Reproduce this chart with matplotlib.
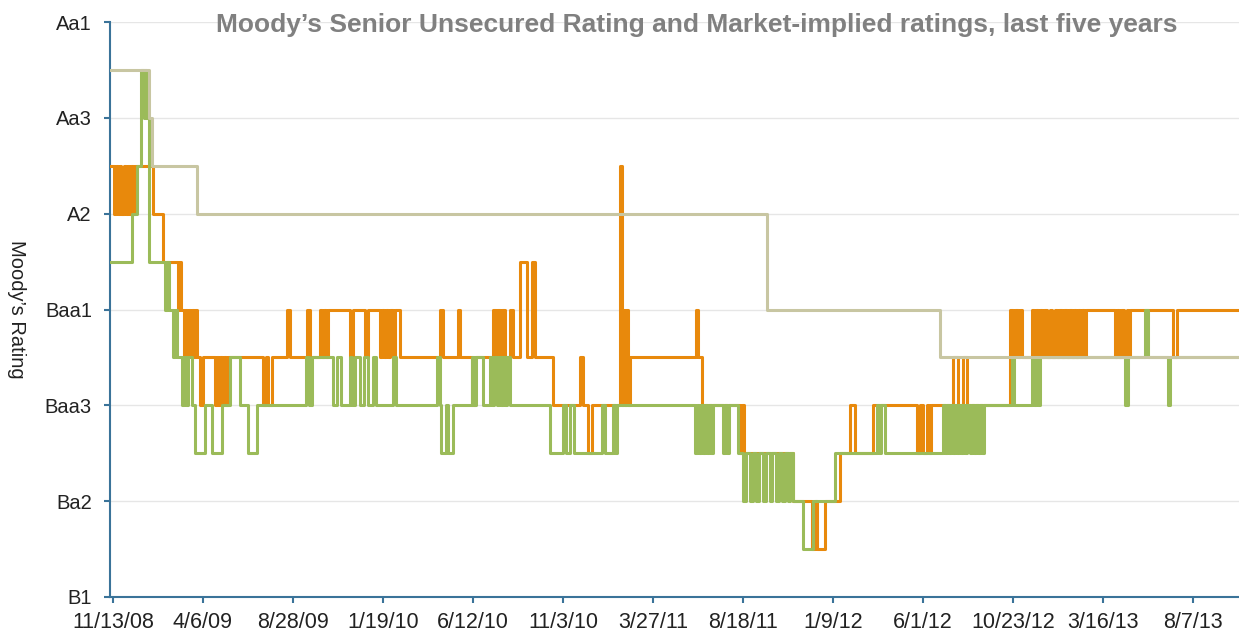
import matplotlib
matplotlib.use("Agg")
import matplotlib.pyplot as plt
import pandas as pd

### DATA ###
# ratings are counted in notches above B1 (B1=0 ... Aa1=12)
# change points are given as days since 11/13/08, value holds until the next point
start = pd.Timestamp("2008-11-13")
last_day = 1802

rating_names = ["B1", "Ba3", "Ba2", "Ba1", "Baa3", "Baa2", "Baa1",
                "A3", "A2", "A1", "Aa3", "Aa2", "Aa1"]
ytick_labels = ["B1", "Ba2", "Baa3", "Baa1", "A2", "Aa3", "Aa1"]
xtick_labels = ["11/13/08", "4/6/09", "8/28/09", "1/19/10", "6/12/10", "11/3/10",
                "3/27/11", "8/18/11", "1/9/12", "6/1/12", "10/23/12", "3/16/13", "8/7/13"]

# Moody's senior unsecured rating
senior_days = [-3, 57, 62, 134, 1046, 1323]
senior_rating = [11, 10, 9, 8, 6, 5]

# market-implied rating (orange)
mir_a_days = [-3, 2, 5, 8, 11, 13, 18, 21, 24, 26, 29, 32, 35, 64, 80, 104, 106, 109,
              114, 115, 118, 122, 123, 126, 130, 131, 134, 139, 144, 163, 166, 168, 171,
              174, 178, 181, 184, 240, 245, 248, 254, 278, 283, 310, 315, 331, 334, 338,
              341, 344, 379, 384, 403, 408, 427, 430, 434, 437, 440, 443, 448, 451, 459,
              523, 528, 552, 555, 574, 579, 608, 613, 614, 619, 622, 627, 635, 640, 651,
              662, 670, 675, 704, 747, 752, 760, 766, 811, 814, 816, 819, 821, 824, 827,
              933, 936, 942, 1003, 1006, 1010, 1088, 1118, 1123, 1126, 1139, 1163, 1179,
              1187, 1216, 1286, 1291, 1296, 1302, 1306, 1309, 1344, 1352, 1360, 1366,
              1435, 1440, 1443, 1448, 1451, 1454, 1470, 1474, 1477, 1480, 1483, 1486,
              1490, 1494, 1499, 1502, 1507, 1510, 1514, 1518, 1522, 1526, 1530, 1534,
              1538, 1541, 1544, 1547, 1550, 1554, 1557, 1603, 1606, 1610, 1613, 1618,
              1622, 1624, 1627, 1696, 1702]
mir_a_rating = [9, 8, 9, 8, 9, 8, 9, 8, 9, 8, 9, 8, 9, 8, 7, 6, 7, 6,
                5, 6, 5, 6, 5, 6, 5, 6, 5, 4, 5, 4, 5, 4, 5,
                4, 5, 4, 5, 4, 5, 4, 5, 6, 5, 6, 5, 6, 5, 6,
                5, 6, 5, 6, 5, 6, 5, 6, 5, 6, 5, 6, 5, 6, 5,
                6, 5, 6, 5, 4, 5, 6, 5, 6, 5, 6, 5, 6, 5, 7,
                5, 7, 5, 4, 5, 4, 3, 4, 9, 4, 6, 4, 6, 4, 5,
                6, 5, 4, 3, 4, 3, 2, 1, 2, 1, 2, 3, 4,
                3, 4, 3, 4, 3, 4, 3, 4, 5, 4, 5, 4,
                6, 5, 6, 5, 6, 5, 6, 5, 6, 5, 6, 5,
                6, 5, 6, 5, 6, 5, 6, 5, 6, 5, 6, 5,
                6, 5, 6, 5, 6, 5, 6, 5, 6, 5, 6, 5,
                6, 5, 6, 5, 6]

# market-implied rating (green)
mir_b_days = [-3, 30, 38, 45, 50, 51, 53, 58, 83, 86, 90, 96, 99, 102, 110, 114, 117,
              120, 126, 131, 147, 158, 174, 187, 203, 216, 230, 309, 314, 318, 352, 358,
              365, 379, 382, 387, 395, 402, 408, 416, 421, 448, 453, 518, 523, 525, 533,
              536, 544, 574, 578, 581, 592, 603, 606, 610, 614, 618, 621, 624, 627, 630,
              635, 699, 720, 725, 731, 738, 782, 787, 800, 803, 806, 931, 934, 938, 941,
              944, 947, 950, 954, 957, 960, 976, 979, 982, 986, 1000, 1008, 1013, 1019,
              1024, 1029, 1034, 1040, 1045, 1051, 1054, 1061, 1066, 1070, 1075, 1080,
              1083, 1088, 1104, 1120, 1155, 1222, 1226, 1229, 1235, 1328, 1331, 1334,
              1338, 1341, 1344, 1347, 1350, 1354, 1357, 1360, 1363, 1366, 1371, 1374,
              1378, 1381, 1384, 1387, 1390, 1394, 1438, 1442, 1470, 1474, 1477, 1480,
              1483, 1619, 1624, 1651, 1656, 1688, 1691]
mir_b_rating = [7, 8, 9, 11, 10, 11, 10, 7, 6, 7, 6, 5, 6, 5, 4, 5, 4,
                5, 4, 3, 4, 3, 4, 5, 4, 3, 4, 5, 4, 5, 4, 5,
                4, 5, 4, 5, 4, 5, 4, 5, 4, 5, 4, 5, 4, 3, 4,
                3, 4, 5, 4, 5, 4, 5, 4, 5, 4, 5, 4, 5, 4, 5,
                4, 3, 4, 3, 4, 3, 4, 3, 4, 3, 4, 3, 4, 3, 4,
                3, 4, 3, 4, 3, 4, 3, 4, 3, 4, 3, 2, 3, 2,
                3, 2, 3, 2, 3, 2, 3, 2, 3, 2, 3, 2,
                3, 2, 1, 2, 3, 4, 3, 4, 3, 4, 3, 4,
                3, 4, 3, 4, 3, 4, 3, 4, 3, 4, 3, 4,
                3, 4, 3, 4, 3, 4, 5, 4, 5, 4, 5, 4,
                5, 4, 5, 6, 5, 4, 5]


def to_steps(days, rating):
    # repeat the last value out to the end of the chart
    d = list(days) + [last_day]
    r = list(rating) + [rating[-1]]
    return start + pd.to_timedelta(d, unit="D"), r


### PLOT ###
plt.rcParams["font.family"] = ["Liberation Sans", "DejaVu Sans"]
axis_color = "#3a7399"

fig = plt.figure(figsize=(12.39, 6.38), dpi=100)
ax = fig.add_axes([110 / 1239, 41 / 638, 1 - 110 / 1239, 575 / 638])

x, y = to_steps(mir_a_days, mir_a_rating)
ax.step(x, y, where="post", color="#e8890c", lw=2.2, zorder=3)
x, y = to_steps(mir_b_days, mir_b_rating)
ax.step(x, y, where="post", color="#9bbb59", lw=2.2, zorder=4)
x, y = to_steps(senior_days, senior_rating)
ax.step(x, y, where="post", color="#c8c6a2", lw=2.2, zorder=5)

ax.set_ylim(0, 12)
ax.set_yticks([rating_names.index(n) for n in ytick_labels])
ax.set_yticklabels(ytick_labels)
ax.set_xlim(start - pd.Timedelta(days=4.8), start + pd.Timedelta(days=last_day))
ax.set_xticks(pd.to_datetime(xtick_labels, format="%m/%d/%y"))
ax.set_xticklabels(xtick_labels)

ax.grid(axis="y", color="#e6e6e6", lw=1.0, zorder=0)
ax.set_axisbelow(True)
for side in ["top", "right"]:
    ax.spines[side].set_visible(False)
for side in ["left", "bottom"]:
    ax.spines[side].set_color(axis_color)
    ax.spines[side].set_linewidth(1.5)
ax.tick_params(axis="both", colors=axis_color, length=4, width=1.5, labelsize=14.5,
               labelcolor="#222222")
ax.tick_params(axis="x", labelsize=15.5, pad=7)
ax.tick_params(axis="y", pad=9)

ax.set_ylabel("Moody\u2019s Rating", rotation=-90, fontsize=14.5, color="#222222",
              va="center")
ax.yaxis.set_label_coords(-0.083, 0.5)

fig.text(0.5625, 1 - 32 / 638, "Moody\u2019s Senior Unsecured Rating and Market-implied ratings, last five years",
         ha="center", va="baseline", fontsize=19, fontweight="bold", color="#808080")

plt.savefig("out.png", dpi=100)
